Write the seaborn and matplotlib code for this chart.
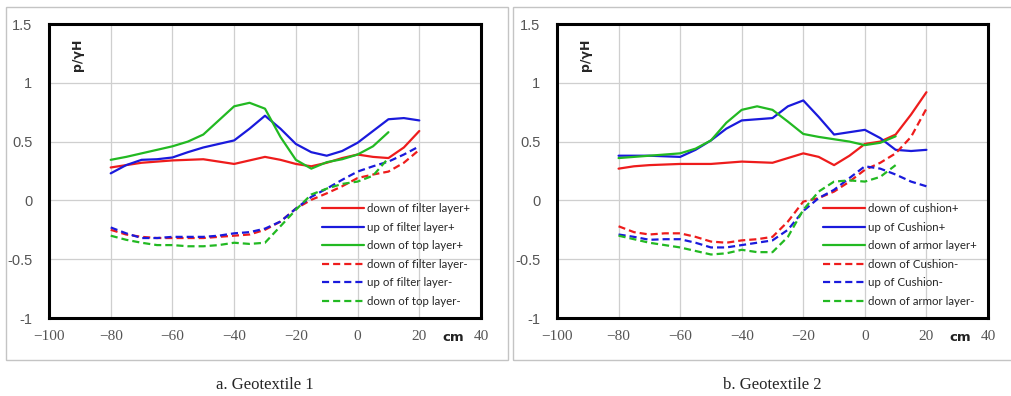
import matplotlib
matplotlib.use("Agg")
import matplotlib.pyplot as plt
from matplotlib.patches import Rectangle
import pandas as pd
import seaborn as sns

# positions along the slope (cm)
x_full = [-80, -75, -70, -65, -60, -55, -50, -45, -40, -35, -30,
          -25, -20, -15, -10, -5, 0, 5, 10, 15, 20]
x_short = x_full[:19]  # the "top/armor layer" series stop at 10 cm

# Geotextile 1
g1_down_filter_plus = [0.28, 0.30, 0.32, 0.33, 0.34, 0.345, 0.35, 0.33, 0.31, 0.34, 0.37,
                       0.345, 0.31, 0.29, 0.32, 0.36, 0.39, 0.37, 0.36, 0.45, 0.59]
g1_up_filter_plus = [0.23, 0.30, 0.345, 0.35, 0.365, 0.41, 0.45, 0.48, 0.51, 0.61, 0.72,
                     0.61, 0.48, 0.41, 0.38, 0.42, 0.49, 0.59, 0.69, 0.70, 0.68]
g1_down_top_plus = [0.345, 0.37, 0.40, 0.43, 0.46, 0.50, 0.56, 0.68, 0.80, 0.83, 0.78,
                    0.54, 0.345, 0.27, 0.325, 0.35, 0.39, 0.46, 0.58]
g1_down_filter_minus = [-0.25, -0.29, -0.31, -0.32, -0.32, -0.32, -0.32, -0.31, -0.30, -0.29, -0.25,
                        -0.18, -0.07, 0.005, 0.06, 0.12, 0.19, 0.22, 0.245, 0.32, 0.43]
g1_up_filter_minus = [-0.23, -0.28, -0.32, -0.32, -0.31, -0.31, -0.31, -0.30, -0.28, -0.27, -0.24,
                      -0.18, -0.07, 0.03, 0.10, 0.175, 0.245, 0.29, 0.33, 0.39, 0.46]
g1_down_top_minus = [-0.30, -0.335, -0.36, -0.38, -0.38, -0.39, -0.39, -0.38, -0.36, -0.37, -0.36,
                     -0.22, -0.08, 0.05, 0.10, 0.14, 0.16, 0.21, 0.36]

# Geotextile 2
g2_down_cushion_plus = [0.27, 0.29, 0.30, 0.305, 0.31, 0.31, 0.31, 0.32, 0.33, 0.325, 0.32,
                        0.36, 0.40, 0.37, 0.30, 0.38, 0.48, 0.50, 0.56, 0.73, 0.92]
g2_up_cushion_plus = [0.38, 0.38, 0.38, 0.375, 0.37, 0.43, 0.51, 0.61, 0.68, 0.69, 0.70,
                      0.80, 0.85, 0.71, 0.56, 0.58, 0.60, 0.53, 0.43, 0.42, 0.43]
g2_down_armor_plus = [0.36, 0.37, 0.38, 0.39, 0.40, 0.44, 0.51, 0.66, 0.77, 0.80, 0.77,
                      0.67, 0.565, 0.54, 0.52, 0.50, 0.47, 0.49, 0.545]
g2_down_cushion_minus = [-0.22, -0.27, -0.29, -0.28, -0.28, -0.31, -0.35, -0.36, -0.34, -0.33, -0.31,
                         -0.18, -0.01, 0.02, 0.075, 0.16, 0.26, 0.32, 0.40, 0.54, 0.78]
g2_up_cushion_minus = [-0.29, -0.31, -0.335, -0.33, -0.33, -0.36, -0.40, -0.40, -0.38, -0.36, -0.34,
                       -0.25, -0.09, 0.02, 0.09, 0.19, 0.29, 0.27, 0.22, 0.16, 0.12]
g2_down_armor_minus = [-0.30, -0.33, -0.36, -0.38, -0.40, -0.43, -0.46, -0.45, -0.42, -0.44, -0.44,
                       -0.31, -0.08, 0.075, 0.16, 0.17, 0.16, 0.20, 0.30]

labels_1 = ["down of filter layer+", "up of filter layer+", "down of top layer+",
            "down of filter layer-", "up of filter layer-", "down of top layer-"]
labels_2 = ["down of cushion+", "up of Cushion+", "down of armor layer+",
            "down of Cushion-", "up of Cushion-", "down of armor layer-"]

xticks = [-100, -80, -60, -40, -20, 0, 20, 40]
xtick_labels = ["\u2212100", "\u221280", "\u221260", "\u221240", "\u221220", "0", "20", "40"]
yticks = [-1, -0.5, 0, 0.5, 1, 1.5]
ytick_labels = ["-1", "-0.5", "0", "0.5", "1", "1.5"]

captions = ["a. Geotextile 1", "b. Geotextile 2"]

panel_1 = [(x_full, g1_down_filter_plus), (x_full, g1_up_filter_plus), (x_short, g1_down_top_plus),
           (x_full, g1_down_filter_minus), (x_full, g1_up_filter_minus), (x_short, g1_down_top_minus)]
panel_2 = [(x_full, g2_down_cushion_plus), (x_full, g2_up_cushion_plus), (x_short, g2_down_armor_plus),
           (x_full, g2_down_cushion_minus), (x_full, g2_up_cushion_minus), (x_short, g2_down_armor_minus)]

colors = ["#ee1c1c", "#1a1adc", "#22b922", "#ee1c1c", "#1a1adc", "#22b922"]
styles = ["-", "-", "-", (0, (3.2, 1.8)), (0, (3.2, 1.8)), (0, (3.2, 1.8))]

sns.set_style("white")
plt.rcParams["font.family"] = ["DejaVu Sans"]

fig = plt.figure(figsize=(10.11, 3.96), dpi=100)

# light gray panel frames
W, H = 1011, 396
fig.patches.append(Rectangle((6 / W, 1 - 360 / H), (508 - 6) / W, (360 - 7) / H,
                             transform=fig.transFigure, fill=False, edgecolor="#c4c4c4", lw=1))
fig.patches.append(Rectangle((513 / W, 1 - 360 / H), (1015 - 513) / W, (360 - 7) / H,
                             transform=fig.transFigure, fill=False, edgecolor="#c4c4c4", lw=1))

axes_pos = [[49 / W, 78 / H, 432 / W, 294 / H], [557 / W, 78 / H, 431 / W, 294 / H]]

for pos, panel, labels, caption in zip(axes_pos, [panel_1, panel_2], [labels_1, labels_2], captions):
    ax = fig.add_axes(pos)
    for (xs, ys), lab, c, ls in zip(panel, labels, colors, styles):
        df = pd.DataFrame({"cm": xs, "p": ys})
        sns.lineplot(data=df, x="cm", y="p", ax=ax, color=c, linestyle=ls, lw=1.6, label=lab)

    ax.set_xlim(-100, 40)
    ax.set_ylim(-1, 1.5)
    ax.set_xticks(xticks)
    ax.set_xticklabels(xtick_labels, family="Liberation Serif", fontsize=11, color="#555555")
    ax.set_yticks(yticks)
    ax.set_yticklabels(ytick_labels, family="Liberation Sans", fontsize=10.5, color="#555555")
    ax.tick_params(axis="both", length=0)
    ax.tick_params(axis="x", pad=9)
    ax.tick_params(axis="y", pad=12)
    ax.grid(True, color="#cfcfcf", lw=0.9)
    ax.set_xlabel("")
    ax.set_ylabel("")
    for sp in ax.spines.values():
        sp.set_color("black")
        sp.set_linewidth(2.2)

    ax.text(0.067, 0.895, "p/\u03b3H", transform=ax.transAxes, rotation=90,
            fontsize=9, fontweight="bold", ha="center", va="center")
    ax.text(0.935, -0.065, "cm", transform=ax.transAxes, fontsize=9.5,
            fontweight="bold", ha="center", va="center", color="#222222")

    ax.legend(loc="lower right", bbox_to_anchor=(1.0, 0.0), frameon=False,
              prop={"family": "Lato", "size": 8.3}, handlelength=3.6,
              labelspacing=0.66, handletextpad=0.3, borderaxespad=0.55)

    cx = pos[0] + pos[2] / 2
    fig.text(cx, 1 - 385 / H, caption, family="Liberation Serif", fontsize=12,
             ha="center", va="center")

fig.savefig("out.png", dpi=100)
